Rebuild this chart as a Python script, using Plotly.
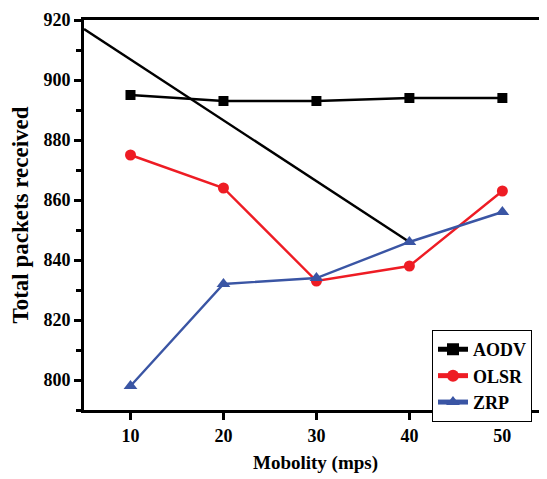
import plotly.graph_objects as go

mobility = [10, 20, 30, 40, 50]
aodv = [895, 893, 893, 894, 894]
olsr = [875, 864, 833, 838, 863]
zrp = [798, 832, 834, 846, 856]
extra_x = [5, 40]
extra_y = [917, 846]

font = "Liberation Serif"
fig = go.Figure()
fig.add_trace(go.Scatter(x=extra_x, y=extra_y, mode="lines", line=dict(color="black", width=2.4),
                         showlegend=False, hoverinfo="skip"))
fig.add_trace(go.Scatter(x=mobility, y=aodv, mode="lines+markers", name="AODV",
                         line=dict(color="black", width=2.4),
                         marker=dict(symbol="square", size=10, color="black")))
fig.add_trace(go.Scatter(x=mobility, y=olsr, mode="lines+markers", name="OLSR",
                         line=dict(color="#ee1c24", width=2.4),
                         marker=dict(symbol="circle", size=11, color="#ee1c24")))
fig.add_trace(go.Scatter(x=mobility, y=zrp, mode="lines+markers", name="ZRP",
                         line=dict(color="#3a55a4", width=2.4),
                         marker=dict(symbol="triangle-up", size=12, color="#3a55a4")))

fig.update_layout(
    width=539, height=471,
    margin=dict(l=76, r=0, t=12, b=69),
    paper_bgcolor="white", plot_bgcolor="white",
    font=dict(family=font, size=16, color="black"),
    showlegend=True,
    legend=dict(x=0.7516, y=0.205, xanchor="left", yanchor="top",
                bordercolor="black", borderwidth=1, bgcolor="white",
                font=dict(family=font, size=18, color="black", weight="bold"),
                tracegroupgap=0, itemsizing="constant"),
    xaxis=dict(range=[5, 54.8], tickvals=[10, 20, 30, 40, 50], showgrid=False, zeroline=False,
               automargin=False,
               showline=True, linecolor="black", linewidth=3, mirror=True,
               ticks="outside", ticklen=7, tickwidth=2.5, tickcolor="black",
               tickfont=dict(family=font, size=18, weight="bold"),
               title=dict(text="Mobolity (mps)", font=dict(family=font, size=19, weight="bold"), standoff=12)),
    yaxis=dict(range=[790, 920], tickvals=[800, 820, 840, 860, 880, 900, 920], showgrid=False, zeroline=False,
               automargin=False,
               showline=True, linecolor="black", linewidth=3,
               ticks="outside", ticklen=7, tickwidth=2.5, tickcolor="black",
               minor=dict(tickvals=[790, 810, 830, 850, 870, 890, 910], ticks="outside", ticklen=5, tickwidth=2.5, tickcolor="black"),
               tickfont=dict(family=font, size=18, weight="bold"),
               title=dict(text="Total packets received", font=dict(family=font, size=23, weight="bold"), standoff=9)),
)
fig.write_html("out.html")
